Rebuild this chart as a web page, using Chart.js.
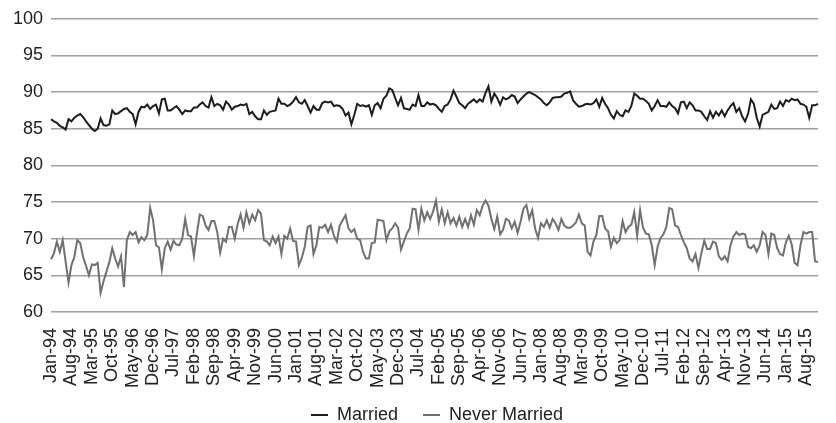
<!DOCTYPE html>
<html>
<head>
<meta charset="utf-8">
<script src="https://cdn.jsdelivr.net/npm/chart.js@4.4.1/dist/chart.umd.min.js"></script>
<style>
  html, body { margin: 0; padding: 0; background: #fff; }
  #wrap { width: 836px; height: 423px; position: relative; }
</style>
</head>
<body>
<div id="wrap"><canvas id="myGraph"></canvas></div>
<script>
// monthly series, Jan-94 .. Dec-15
const startYear = 1994;
const monthCount = 264;
const monthNames = ["Jan", "Feb", "Mar", "Apr", "May", "Jun", "Jul", "Aug", "Sep", "Oct", "Nov", "Dec"];
const tickEvery = 7;

const married = [
  86.3, 86.0, 85.8, 85.4, 85.2, 84.9, 86.3, 86.0, 86.5, 86.8,
  87.0, 86.6, 86.0, 85.5, 85.0, 84.7, 85.0, 86.4, 85.5, 85.4,
  85.6, 87.5, 87.0, 87.1, 87.4, 87.7, 87.8, 87.3, 87.0, 85.6,
  87.3, 88.0, 87.9, 88.3, 87.7, 88.1, 88.3, 87.1, 89.0, 89.1,
  87.5, 87.5, 87.8, 88.1, 87.6, 87.0, 87.5, 87.4, 87.4, 87.9,
  87.9, 88.3, 88.6, 88.1, 87.9, 89.3, 88.1, 88.4, 88.2, 87.6,
  88.7, 88.3, 87.6, 88.0, 88.1, 88.3, 88.2, 88.4, 87.0, 87.3,
  86.7, 86.3, 86.3, 87.5, 86.9, 87.3, 87.4, 87.5, 89.1, 88.4,
  88.4, 88.1, 88.3, 88.7, 89.3, 88.6, 88.4, 88.9, 88.1, 87.2,
  88.1, 87.6, 87.6, 88.5, 88.7, 88.6, 88.7, 88.1, 88.2, 88.1,
  87.7, 86.8, 87.2, 85.6, 86.9, 88.4, 88.1, 88.2, 88.0, 88.2,
  86.9, 88.2, 88.5, 87.8, 89.1, 89.5, 90.5, 90.3, 89.2, 88.2,
  89.2, 87.8, 87.7, 87.6, 88.3, 88.1, 89.6, 88.1, 88.1, 88.6,
  88.3, 88.4, 88.2, 87.7, 87.3, 88.1, 88.3, 89.0, 90.2, 89.4,
  88.5, 88.2, 87.8, 88.4, 88.7, 89.0, 88.6, 89.0, 88.7, 89.9,
  90.8, 88.7, 89.8, 89.2, 88.3, 89.3, 89.0, 89.2, 89.6, 89.4,
  88.5, 89.0, 89.4, 89.8, 90.0, 89.8, 89.6, 89.3, 89.0, 88.5,
  88.2, 88.6, 89.2, 89.3, 89.3, 89.4, 89.8, 89.9, 90.1, 88.9,
  88.4, 88.0, 88.1, 88.3, 88.4, 88.3, 88.5, 89.0, 88.0, 89.2,
  88.4, 87.8, 86.9, 86.4, 87.4, 86.9, 86.7, 87.5, 87.3, 88.1,
  89.8, 89.5, 89.1, 89.1, 88.8, 88.4, 87.5, 88.1, 88.9, 88.1,
  88.1, 88.0, 88.6, 88.1, 87.8, 87.1, 88.6, 88.7, 87.8, 88.6,
  88.2, 87.5, 87.5, 87.3, 86.7, 86.2, 87.4, 86.5, 87.3, 86.8,
  87.5, 86.7, 87.5, 88.1, 88.5, 87.3, 87.8, 86.7, 86.0, 87.0,
  89.0, 88.4, 86.5, 85.3, 86.9, 87.1, 87.3, 88.3, 87.7, 87.8,
  88.7, 88.1, 88.9, 88.7, 89.1, 88.9, 89.0, 88.4, 88.3, 88.0,
  86.5, 88.2, 88.2, 88.4
];

const neverMarried = [
  67.2, 68.0, 69.6, 68.2, 69.8, 66.9, 64.0, 66.4, 67.5, 69.8,
  69.4, 67.5, 66.3, 65.0, 66.5, 66.4, 66.7, 62.6, 64.2, 65.5,
  66.8, 68.7, 67.3, 66.2, 67.6, 63.4, 69.8, 70.9, 70.5, 70.9,
  69.5, 70.2, 69.8, 70.5, 74.2, 72.5, 69.1, 68.8, 65.8, 68.7,
  69.6, 68.5, 69.7, 69.2, 69.1, 70.0, 72.7, 70.5, 70.3, 67.6,
  70.7, 73.3, 73.1, 71.8, 71.2, 72.4, 72.4, 70.9, 68.1, 70.0,
  69.6, 71.6, 71.6, 70.0, 72.0, 73.3, 71.5, 73.6, 72.1, 73.3,
  72.5, 73.9, 73.4, 69.8, 69.6, 69.1, 70.3, 69.4, 70.3, 67.9,
  70.4, 70.0, 71.4, 69.7, 69.6, 66.4, 67.4, 68.9, 71.6, 71.8,
  67.9, 69.1, 71.6, 71.5, 71.9, 70.9, 71.9, 70.4, 69.6, 71.8,
  72.5, 73.2, 71.4, 70.9, 71.3, 70.0, 69.8, 68.2, 67.3, 67.3,
  69.4, 69.5, 72.6, 72.5, 72.4, 69.8, 71.0, 71.4, 72.1, 71.5,
  68.5, 69.6, 70.7, 71.4, 74.1, 74.0, 71.2, 74.1, 72.5, 73.6,
  72.7, 73.7, 75.2, 72.3, 74.0, 72.1, 73.6, 72.1, 72.8, 71.8,
  73.0, 71.6, 72.7, 71.6, 73.2, 71.9, 73.9, 73.2, 74.5, 75.2,
  74.5, 72.7, 71.3, 73.0, 70.6, 71.2, 72.7, 72.5, 71.4, 72.3,
  70.8, 72.3, 74.1, 74.6, 72.7, 73.9, 71.4, 70.1, 72.1, 71.6,
  72.5, 71.5, 72.7, 72.1, 71.2, 72.7, 71.8, 71.5, 71.5, 71.8,
  72.2, 73.3, 72.1, 71.8, 68.2, 67.7, 69.6, 70.5, 73.1, 73.1,
  71.4, 71.0, 68.9, 70.1, 69.4, 69.8, 72.4, 70.9, 71.6, 71.9,
  73.6, 70.4, 73.9, 71.5, 70.7, 70.6, 69.1, 66.4, 68.9, 70.1,
  70.6, 71.6, 74.2, 74.0, 71.8, 71.6, 70.5, 69.5, 68.7, 67.3,
  66.9, 67.9, 66.0, 68.0, 69.7, 68.6, 68.6, 69.6, 69.4, 67.6,
  67.1, 67.6, 66.9, 69.1, 70.3, 70.9, 70.5, 70.7, 70.6, 68.9,
  68.7, 69.1, 68.2, 69.1, 70.9, 70.5, 67.9, 70.7, 70.5, 68.7,
  67.9, 67.7, 69.5, 70.4, 69.2, 66.7, 66.4, 69.1, 70.9, 70.7,
  70.9, 70.9, 66.9, 66.8
];

function generateMonthLabels(count) {
  const labels = [];
  for (let i = 0; i < count; i++) {
    const year = (startYear + Math.floor(i / 12)) % 100;
    labels.push(monthNames[i % 12] + "-" + String(year).padStart(2, "0"));
  }
  return labels;
}

const labels = generateMonthLabels(monthCount);
const fontFamily = "'Liberation Sans', Arial, sans-serif";

// the legend needs a wide item gap, which also makes its box tall:
// let it hang below the page and move it back up after layout
const legendNudge = {
  id: "legendNudge",
  afterLayout(chart) {
    const lg = chart.legend;
    lg.top -= 15;
    lg.bottom -= 15;
    lg.left += 19;
    lg.right += 19;
  },
};

new Chart(document.getElementById("myGraph"), {
  type: "line",
  data: {
    labels: labels,
    datasets: [
      {
        label: "Married",
        data: married,
        borderColor: "#1c1c1c",
        backgroundColor: "#1c1c1c",
        borderWidth: 2,
        pointRadius: 0,
        tension: 0,
      },
      {
        label: "Never Married",
        data: neverMarried,
        borderColor: "#707070",
        backgroundColor: "#707070",
        borderWidth: 2,
        pointRadius: 0,
        tension: 0,
      },
    ],
  },
  plugins: [legendNudge],
  options: {
    responsive: true,
    maintainAspectRatio: false,
    animation: false,
    layout: { padding: { top: 2, right: 5, left: 5, bottom: -26 } },
    plugins: {
      legend: {
        position: "bottom",
        labels: {
          boxWidth: 17,
          boxHeight: 2,
          color: "#222",
          padding: 25,
          font: { family: fontFamily, size: 18 },
          // thin line swatch: fill only, no outline
          generateLabels: function (chart) {
            const items = Chart.defaults.plugins.legend.labels.generateLabels(chart);
            return items.map((item) => ({ ...item, lineWidth: 0 }));
          },
        },
      },
      tooltip: { enabled: false },
    },
    scales: {
      x: {
        grid: { display: false },
        border: { display: false },
        ticks: {
          autoSkip: false,
          maxRotation: 90,
          minRotation: 90,
          color: "#222",
          padding: 8,
          font: { family: fontFamily, size: 18 },
          callback: function (value, index) {
            return index % tickEvery === 0 ? this.getLabelForValue(value) : null;
          },
        },
      },
      y: {
        min: 60,
        max: 100,
        border: { display: false },
        grid: { color: "#a0a0a0", lineWidth: 1.5, drawTicks: false },
        ticks: {
          stepSize: 5,
          color: "#222",
          padding: 8,
          font: { family: fontFamily, size: 18 },
        },
      },
    },
  },
});
</script>
</body>
</html>
